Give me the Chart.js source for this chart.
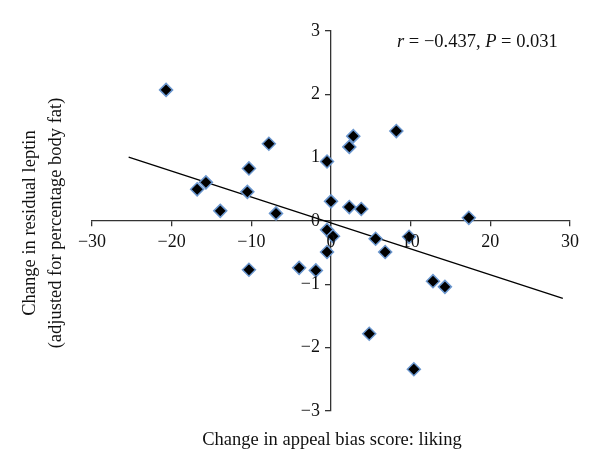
<!DOCTYPE html>
<html>
<head>
<meta charset="utf-8">
<script src="https://cdn.jsdelivr.net/npm/chart.js@4.4.1/dist/chart.umd.min.js"></script>
<style>
  body { margin: 0; background: #fff; }
  #wrap { width: 600px; height: 471px; position: relative; }
</style>
</head>
<body>
<div id="wrap"><canvas id="grafico" width="600" height="471"></canvas></div>
<script>
// --- dados ---
const mudancaLiking = [-20.7, -16.8, -15.7, -13.9, -10.5, -10.3, -7.8, -6.9, -10.3, -4.0, -1.9,
  -0.5, 0.0, -0.5, 0.25, -0.5, 2.3, 2.8, 2.3, 3.8, 8.2, 5.6, 6.8, 9.8, 12.8, 14.3, 17.3, 4.8, 10.4];
const mudancaLeptina = [2.07, 0.50, 0.61, 0.16, 0.46, 0.83, 1.22, 0.12, -0.77, -0.74, -0.78,
  0.94, 0.31, -0.14, -0.24, -0.49, 1.17, 1.34, 0.22, 0.19, 1.42, -0.28, -0.49, -0.25, -0.95, -1.04, 0.05, -1.78, -2.34];
const retaX = [-25.4, 29.1];
const retaY = [1.01, -1.22];
const ticksX = [-30, -20, -10, 0, 10, 20, 30];
const ticksY = [-3, -2, -1, 0, 1, 2, 3];

const pontos = mudancaLiking.map((x, i) => ({ x: x, y: mudancaLeptina[i] }));
const reta = retaX.map((x, i) => ({ x: x, y: retaY[i] }));
const menos = v => (v < 0 ? '\u2212' + Math.abs(v) : String(v));
const fonte = '"Liberation Serif"';

// r칩tulos dos ticks, t칤tulos dos eixos e anota칞칚o
const textos = {
  id: 'textos',
  afterDraw(chart) {
    const ctx = chart.ctx;
    const sx = chart.scales.x, sy = chart.scales.y;
    const x0 = sx.getPixelForValue(0), y0 = sy.getPixelForValue(0);
    ctx.save();
    ctx.fillStyle = '#111';

    // ticks
    ctx.font = '18px ' + fonte;
    ctx.textBaseline = 'alphabetic';
    ctx.textAlign = 'center';
    ticksX.forEach(v => ctx.fillText(menos(v), sx.getPixelForValue(v), y0 + 26));
    ctx.textAlign = 'right';
    ctx.textBaseline = 'middle';
    ticksY.forEach(v => ctx.fillText(menos(v), x0 - 11, sy.getPixelForValue(v)));

    // t칤tulos
    ctx.font = '18.5px ' + fonte;
    ctx.textBaseline = 'alphabetic';
    ctx.textAlign = 'center';
    ctx.fillText('Change in appeal bias score: liking', x0 + 1, 445);

    ctx.save();
    ctx.translate(35, 223);
    ctx.rotate(-Math.PI / 2);
    ctx.fillText('Change in residual leptin', 0, 0);
    ctx.fillText('(adjusted for percentage body fat)', 0, 26);
    ctx.restore();

    // r = -0.437, P = 0.031
    const partes = [['r', true], [' = \u22120.437, ', false], ['P', true], [' = 0.031', false]];
    ctx.textAlign = 'left';
    let x = 397;
    partes.forEach(([t, it]) => {
      ctx.font = (it ? 'italic ' : '') + '18.5px ' + fonte;
      ctx.fillText(t, x, 47);
      x += ctx.measureText(t).width;
    });
    ctx.restore();
  }
};

new Chart(document.getElementById('grafico'), {
  type: 'scatter',
  data: {
    datasets: [
      {
        label: 'dados',
        data: pontos,
        pointStyle: 'rectRot',
        pointRadius: 6.5,
        pointHoverRadius: 6.5,
        backgroundColor: '#000',
        borderColor: '#6b97cf',
        borderWidth: 1.5
      },
      {
        label: 'tend칡ncia',
        type: 'line',
        data: reta,
        showLine: true,
        pointRadius: 0,
        borderColor: '#000',
        borderWidth: 1.3,
        fill: false
      }
    ]
  },
  options: {
    responsive: false,
    animation: false,
    layout: { padding: { left: 92, right: 30, top: 31, bottom: 60 } },
    plugins: { legend: { display: false }, tooltip: { enabled: false } },
    scales: {
      x: {
        type: 'linear',
        position: { y: 0 },
        min: -30, max: 30,
        afterBuildTicks: s => { s.ticks = ticksX.map(v => ({ value: v })); },
        grid: { display: true, drawOnChartArea: false, drawTicks: true, tickLength: 5, color: '#333', lineWidth: 1.3 },
        border: { display: true, color: '#333', width: 1.3 },
        ticks: { display: false }
      },
      y: {
        type: 'linear',
        position: { x: 0 },
        min: -3, max: 3,
        afterBuildTicks: s => { s.ticks = ticksY.map(v => ({ value: v })); },
        grid: { display: true, drawOnChartArea: false, drawTicks: true, tickLength: 5, color: '#333', lineWidth: 1.3 },
        border: { display: true, color: '#333', width: 1.3 },
        ticks: { display: false }
      }
    }
  },
  plugins: [textos]
});
</script>
</body>
</html>
